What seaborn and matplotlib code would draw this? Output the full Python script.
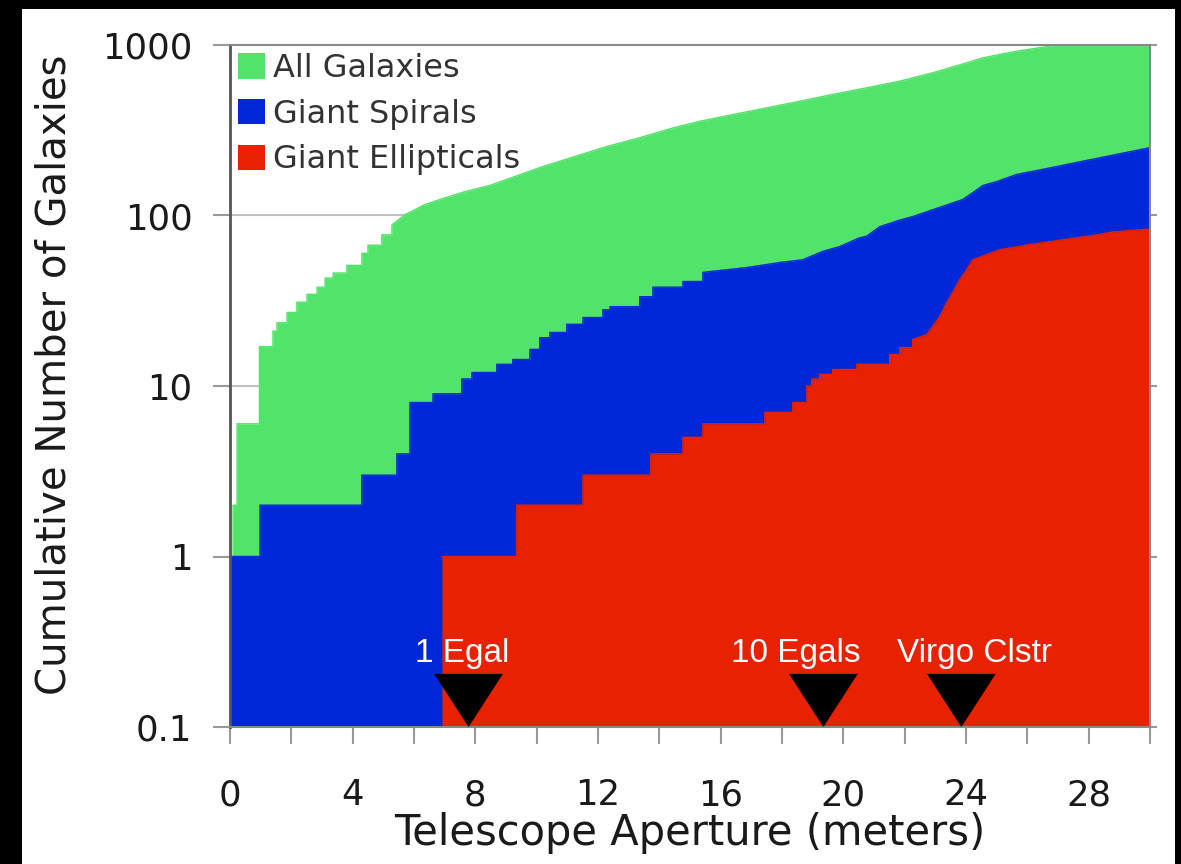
import numpy as np
import pandas as pd
import seaborn as sns
import matplotlib
matplotlib.use("Agg")
import matplotlib.pyplot as plt
from matplotlib.patches import Rectangle, Patch, Polygon
from matplotlib.ticker import FixedLocator, MultipleLocator, NullLocator, FixedFormatter

# ---------------- data ----------------
green_x = [0.0, 0.10, 0.23, 0.96, 1.40, 1.53, 1.86, 2.18, 2.51, 2.84, 3.10, 3.36, 3.81, 4.30,
           4.50, 4.95, 5.28, 5.70, 6.36, 7.01, 7.66, 8.47, 9.03, 10.10, 11.18, 12.29, 13.36,
           14.44, 15.32, 16.40, 17.50, 18.58, 19.65, 20.76, 21.84, 22.91, 24.02, 24.55, 25.65,
           26.73, 27.28, 28.50, 30.0]
green_y = [1, 2, 6, 17, 21, 23.5, 27, 31, 34.5, 38, 43, 46, 51, 60, 67, 77, 88, 101, 116, 127,
           138, 150, 163, 191, 220, 254, 286, 326, 357, 391, 428, 468, 513, 561, 614, 687, 786,
           841, 920, 984, 1010, 1060, 1100]

blue_x = [0.0, 0.98, 4.30, 5.44, 5.87, 6.62, 7.56, 7.89, 8.70, 9.22, 9.78, 10.10, 10.43, 10.98,
          11.51, 12.16, 12.39, 13.36, 13.79, 14.77, 15.42, 16.85, 17.93, 18.68, 19.33, 19.88,
          20.53, 20.76, 21.19, 21.84, 22.26, 22.91, 23.89, 24.22, 24.55, 25.00, 25.65, 26.73,
          27.80, 28.90, 30.0]
blue_y = [1, 2, 3, 4, 8, 9, 11, 12, 13.4, 14.3, 16.4, 19.2, 20.6, 23, 25.2, 28, 29.2, 33.4, 38,
          41, 46.4, 49.5, 53, 55, 61.6, 65.7, 74, 75.6, 86, 94, 98.5, 108, 124, 136, 150, 158,
          174, 190, 208, 228, 250]

red_x = [6.91, 9.35, 11.51, 13.72, 14.77, 15.42, 17.44, 18.35, 18.81, 18.97, 19.23, 19.65,
         20.44, 21.51, 21.84, 22.26, 22.72, 22.91, 23.14, 23.37, 23.57, 23.79, 24.02, 24.22,
         24.67, 25.10, 26.08, 27.15, 28.26, 28.78, 29.66, 30.0]
red_y = [1, 2, 3, 4, 5, 6, 7, 8, 10, 11, 11.7, 12.5, 13.4, 15.3, 16.8, 18.7, 20, 22.3, 25.5,
         30.8, 35.4, 42, 48, 55, 59, 63, 67.5, 72, 77, 80, 82.5, 83]

series_names = ["All Galaxies", "Giant Spirals", "Giant Ellipticals"]
series_colors = ["#52E36A", "#0028D8", "#E82200"]
# beyond these apertures the counts rise in many tiny steps, drawn as a smooth edge
smooth_from = [5.6, 16.8, 22.7]

marker_x = [7.78, 19.35, 23.85]
label_x = [7.56, 18.45, 24.28]
marker_labels = ["1 Egal", "10 Egals", "Virgo Clstr"]

x_ticks = [0, 4, 8, 12, 16, 20, 24, 28]
y_ticks = [0.1, 1, 10, 100, 1000]
y_tick_labels = ["0.1", "1", "10", "100", "1000"]


def edge_path(xs, ys, cut):
    """Vertices of the cumulative edge: steps below `cut`, straight segments above."""
    px, py = [], []
    n = len(xs)
    for i in range(n):
        px.append(xs[i]); py.append(ys[i])
        if i < n - 1 and xs[i + 1] <= cut:
            px.append(xs[i + 1]); py.append(ys[i])
    return pd.DataFrame({"x": px, "y": py})


# ---------------- styling ----------------
sns.set_theme(style="white")
plt.rcParams["font.family"] = ["DejaVu Sans"]

W, H = 1181, 864
fig = plt.figure(figsize=(W / 100, H / 100), dpi=100, facecolor="black")
fig.patches.append(Rectangle((22 / W, 0), (1175 - 22) / W, (864 - 9) / H,
                             transform=fig.transFigure, facecolor="white",
                             edgecolor="none", zorder=-10))

ax = fig.add_axes([230 / W, (H - 727) / H, 920 / W, 682 / H])
ax.set_facecolor("white")
ax.set_yscale("log")

floor = 0.01
for name, xs, ys, col, cut in zip(series_names,
                                  [green_x, blue_x, red_x],
                                  [green_y, blue_y, red_y],
                                  series_colors, smooth_from):
    df = edge_path(xs, ys, cut)
    ax.fill_between(df["x"], floor, df["y"], color=col, linewidth=0, zorder=2)
    sns.lineplot(data=df, x="x", y="y", sort=False, estimator=None, color=col,
                 linewidth=1.0, ax=ax, zorder=2.5, legend=False)

ax.set_xlim(0, 30)
ax.set_ylim(0.1, 1000)

# markers (triangles) and their labels
tri_half = 1.12
tri_top = 0.205
for mx in marker_x:
    ax.add_patch(Polygon([(mx - tri_half, tri_top), (mx + tri_half, tri_top), (mx, 0.1)],
                         closed=True, facecolor="black", edgecolor="none", zorder=4,
                         clip_on=False))
for lx, lab in zip(label_x, marker_labels):
    ax.text(lx, 0.27, lab, color="white", fontsize=24, ha="center", va="center",
            family=["Liberation Sans", "DejaVu Sans"], zorder=5)

# axes, ticks, grid
ax.xaxis.set_major_locator(FixedLocator(x_ticks))
ax.xaxis.set_minor_locator(MultipleLocator(2))
ax.yaxis.set_major_locator(FixedLocator(y_ticks))
ax.yaxis.set_major_formatter(FixedFormatter(y_tick_labels))
ax.yaxis.set_minor_locator(NullLocator())

ax.tick_params(axis="x", which="both", direction="out", length=12, width=1.5,
               color="#999999", bottom=True, top=False)
ax.tick_params(axis="x", which="major", labelsize=25.5, pad=25, labelcolor="#1a1a1a")
ax.tick_params(axis="y", which="major", direction="out", length=12, width=1.5,
               color="#999999", left=True, right=True, labelsize=25.5, pad=15,
               labelcolor="#1a1a1a")

ax.yaxis.grid(True, color="#c0c0c0", linewidth=1.5)
ax.xaxis.grid(False)
ax.set_axisbelow(True)

for side in ["top", "right", "bottom"]:
    ax.spines[side].set_color("#888888")
    ax.spines[side].set_linewidth(1.5)
ax.spines["left"].set_color("#555555")
ax.spines["left"].set_linewidth(2)

ax.set_xlabel("Telescope Aperture (meters)", fontsize=30, color="#1a1a1a")
ax.xaxis.set_label_coords(0.5, (727 - 833) / 682)
ax.xaxis.label.set_va("center")
ax.set_ylabel("Cumulative Number of Galaxies", fontsize=29, color="#1a1a1a")
ax.yaxis.set_label_coords((55 - 230) / 920, (727 - 375) / 682)
ax.yaxis.label.set_va("center")
ax.yaxis.label.set_ha("center")

handles = [Patch(facecolor=c, edgecolor="none") for c in series_colors]
leg = ax.legend(handles, series_names, loc="upper left", bbox_to_anchor=(0.0, 1.0),
                frameon=False, fontsize=23, handlelength=0.84, handleheight=0.84,
                handletextpad=0.25, labelspacing=0.46, borderpad=0.1, borderaxespad=0.15)
for t in leg.get_texts():
    t.set_color("#333333")
leg.set_zorder(6)

for tk in ax.yaxis.get_major_ticks():
    tk.tick2line.set_markersize(5)

fig.savefig("out.png", dpi=100, facecolor=fig.get_facecolor())
